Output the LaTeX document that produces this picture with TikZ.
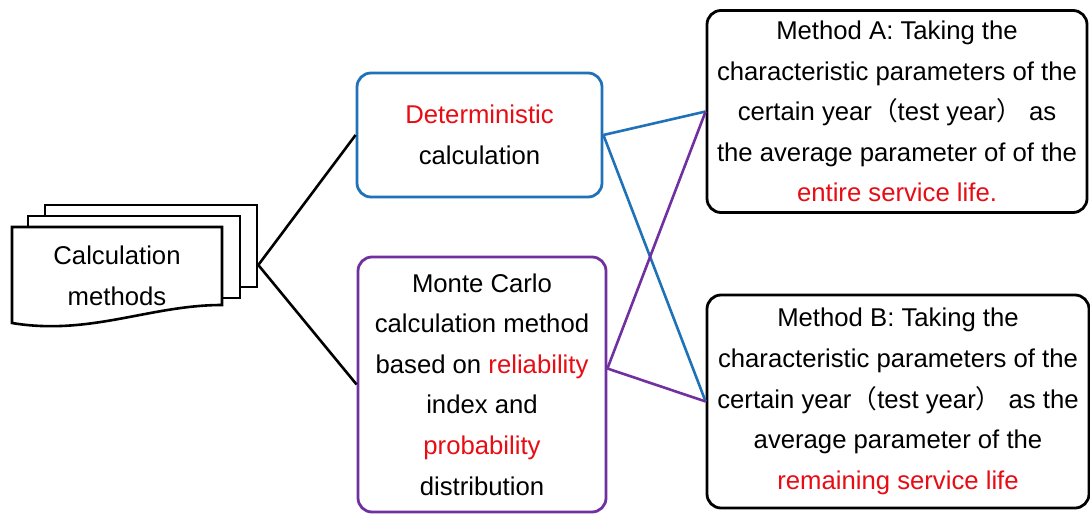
\documentclass[tikz,border=0pt]{standalone}
\usepackage{fontspec}
\setmainfont{Liberation Sans}
\newfontfamily\cjk{Noto Sans CJK SC}
\usetikzlibrary{positioning}
\definecolor{detblue}{RGB}{31,114,184}
\definecolor{mcpurple}{RGB}{112,48,160}
\definecolor{keyred}{RGB}{232,12,20}
\newcommand{\keyword}[1]{\textcolor{keyred}{#1}}
\newcommand{\lpar}{{\cjk （}}
\newcommand{\rpar}{{\cjk ）}}
\tikzset{
  txt/.style={align=center, inner sep=0pt, font=\fontsize{12.85}{20.3}\selectfont},
  box/.style={txt, rectangle, rounded corners=7pt, draw, line width=1.4pt, fill=white},
  detbox/.style={box, draw=detblue, minimum width=122.5pt, minimum height=62pt},
  mcbox/.style={box, draw=mcpurple, minimum width=124pt, minimum height=127.5pt},
  methodbox/.style={box, draw=black, minimum width=190pt, minimum height=101pt},
  page/.style={rectangle, draw, line width=1.3pt, fill=white, minimum width=106pt, minimum height=41pt, inner sep=0pt},
  link/.style={line width=1.3pt},
}

\begin{document}
\begin{tikzpicture}[x=0.5pt, y=-0.5pt]
  \useasboundingbox (0,0) rectangle (1090,513);

  % stacked pages of the document symbol
  \node[page] (back) at (151,246) {};
  \node[page] (mid) at (134,257) {};
  \draw[line width=1.3pt, fill=white] (12,227) -- (222,227) -- (222,305)
    .. controls (150,305) and (90,336) .. (12,323) -- cycle;
  \node[txt] (doc) at (117,276) {Calculation\\methods};

  \node[detbox] (det) at (479.5,135) {\keyword{Deterministic}\\calculation};
  \node[mcbox] (mc) at (482,384.5) {Monte Carlo\\calculation method\\based on \keyword{reliability}\\index and\\\keyword{probability}\\distribution};
  \node[methodbox] (ma) at (897,111.5) {Method A: Taking the\\characteristic parameters of the\\certain year\lpar test year\rpar\ as\\the average parameter of of the\\\keyword{entire service life.}};
  \node[methodbox, minimum width=191pt, minimum height=106.5pt] (mb) at (898,401.5) {Method B: Taking the\\characteristic parameters of the\\certain year\lpar test year\rpar\ as the\\average parameter of the\\\keyword{remaining service life}};

  \draw[link] ([yshift=-9.5pt]back.east) -- (det.west);
  \draw[link] ([yshift=-9.5pt]back.east) -- (mc.west);
  \draw[link, detblue] (det.east) -- (ma.west);
  \draw[link, detblue] (det.east) -- (mb.west);
  \draw[link, mcpurple] ([yshift=8pt]mc.east) -- (ma.west);
  \draw[link, mcpurple] ([yshift=8pt]mc.east) -- (mb.west);
\end{tikzpicture}
\end{document}
